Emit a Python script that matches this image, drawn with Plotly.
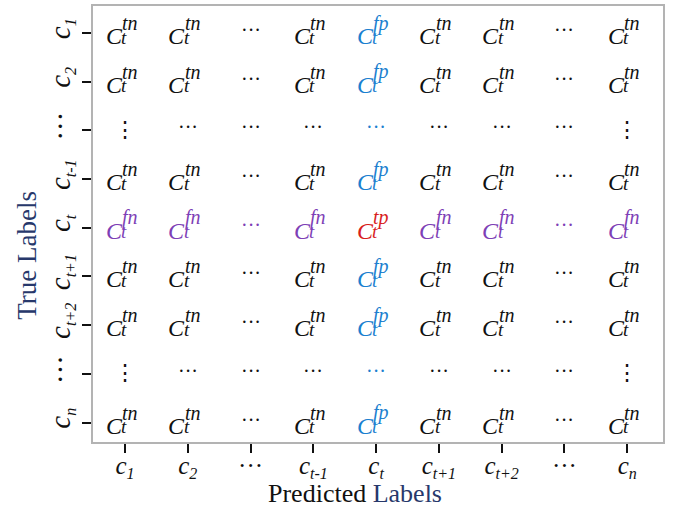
import plotly.graph_objects as go

FONT = "Liberation Serif"

# Axis tick labels (top-to-bottom rows, left-to-right columns)
row_labels = ["1", "2", "...", "t-1", "t", "t+1", "t+2", "...", "n"]
col_labels = ["1", "2", "...", "t-1", "t", "t+1", "t+2", "...", "n"]

# Cell kinds (rows = true labels, columns = predicted labels)
cells = [
    ["tn", "tn", "h", "tn", "fp", "tn", "tn", "h", "tn"],
    ["tn", "tn", "h", "tn", "fp", "tn", "tn", "h", "tn"],
    ["v", "h", "h", "h", "h_fp", "h", "h", "h", "v"],
    ["tn", "tn", "h", "tn", "fp", "tn", "tn", "h", "tn"],
    ["fn", "fn", "h_fn", "fn", "tp", "fn", "fn", "h_fn", "fn"],
    ["tn", "tn", "h", "tn", "fp", "tn", "tn", "h", "tn"],
    ["tn", "tn", "h", "tn", "fp", "tn", "tn", "h", "tn"],
    ["v", "h", "h", "h", "h_fp", "h", "h", "h", "v"],
    ["tn", "tn", "h", "tn", "fp", "tn", "tn", "h", "tn"],
]

colors = {
    "tn": "#111111", "h": "#111111", "v": "#111111",
    "fp": "#1b80cf", "h_fp": "#1b80cf",
    "fn": "#7e3fb6", "h_fn": "#7e3fb6",
    "tp": "#d81e1e",
}
NAVY = "#27386b"


def tick_text(lbl, sub_px):
    if lbl == "...":
        return "···"
    return ("<i>c</i><sub><span style='font-size:%dpx'><i>%s</i></span></sub>"
            % (sub_px, lbl))


fig = go.Figure()
# invisible trace to establish axes
fig.add_trace(go.Scatter(
    x=[c for r in range(len(row_labels)) for c in range(len(col_labels))],
    y=[r for r in range(len(row_labels)) for c in range(len(col_labels))],
    mode="markers", marker=dict(opacity=0), hoverinfo="skip", showlegend=False))

annotations = []
for r, row in enumerate(cells):
    for c, kind in enumerate(row):
        col = colors[kind]
        if kind in ("h", "h_fp", "h_fn"):
            annotations.append(dict(x=c, y=r, xref="x", yref="y", text="···",
                                    showarrow=False, font=dict(family=FONT, size=20, color=col),
                                    yshift=3))
        elif kind == "v":
            annotations.append(dict(x=c, y=r, xref="x", yref="y", text="⋮",
                                    showarrow=False, font=dict(family=FONT, size=22, color=col),
                                    yshift=1))
        else:
            annotations.append(dict(x=c, y=r, xref="x", yref="y", text="<i>C</i>",
                                    showarrow=False, font=dict(family=FONT, size=24, color=col),
                                    xshift=-11, yshift=-3))
            annotations.append(dict(x=c, y=r, xref="x", yref="y", text="<i>%s</i>" % kind,
                                    showarrow=False, font=dict(family=FONT, size=20, color=col),
                                    xshift=5, yshift=10))
            annotations.append(dict(x=c, y=r, xref="x", yref="y", text="<i>t</i>",
                                    showarrow=False, font=dict(family=FONT, size=19, color=col),
                                    xshift=-1, yshift=-4))

annotations.append(dict(xref="paper", yref="paper", x=-0.116, y=0.429,
                        text="True Labels", textangle=-90, showarrow=False,
                        xanchor="center", yanchor="middle",
                        font=dict(family=FONT, size=27, color=NAVY)))
annotations.append(dict(xref="paper", yref="paper", x=0.459, y=-0.119,
                        text="Predicted <span style='color:%s'>Labels</span>" % NAVY,
                        showarrow=False, xanchor="center", yanchor="middle",
                        font=dict(family=FONT, size=26, color="#111111")))

fig.update_layout(
    width=689, height=516,
    margin=dict(l=93, r=26, t=6, b=74),
    paper_bgcolor="white", plot_bgcolor="white",
    annotations=annotations,
    showlegend=False,
)
fig.update_xaxes(
    range=[-0.51, 8.57], tickmode="array", tickvals=list(range(len(col_labels))),
    ticktext=[tick_text(l, 16) for l in col_labels], automargin=False,
    showgrid=False, zeroline=False, showline=True, mirror=True,
    linecolor="#b3b3b3", linewidth=1.5,
    ticks="outside", ticklen=9, tickwidth=1.5, tickcolor="#111111",
    tickfont=dict(family=FONT, size=25, color="#111111"), ticklabelstandoff=-9,
)
fig.update_yaxes(
    range=[8.4, -0.556], tickmode="array", tickvals=list(range(len(row_labels))),
    ticktext=[tick_text(l, 16) for l in row_labels], tickangle=-90, automargin=False,
    showgrid=False, zeroline=False, showline=True, mirror=True,
    linecolor="#b3b3b3", linewidth=1.5,
    ticks="outside", ticklen=9, tickwidth=1.5, tickcolor="#111111",
    tickfont=dict(family=FONT, size=29, color="#111111"), ticklabelstandoff=1,
)

fig.write_html("out.html", config={"displayModeBar": False},
               post_script="document.body.style.margin='0';")
